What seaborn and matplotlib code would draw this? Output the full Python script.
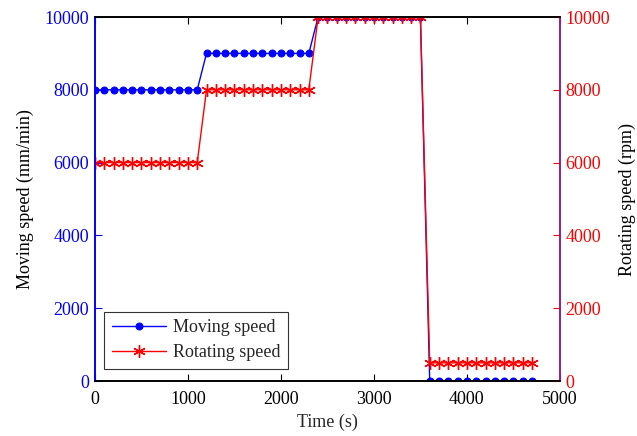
import numpy as np
import pandas as pd
import matplotlib
matplotlib.use("Agg")
import matplotlib.pyplot as plt
import seaborn as sns

# data (time in s)
time_s = [0, 100, 200, 300, 400, 500, 600, 700, 800, 900, 1000, 1100,
          1200, 1300, 1400, 1500, 1600, 1700, 1800, 1900, 2000, 2100, 2200, 2300,
          2400, 2500, 2600, 2700, 2800, 2900, 3000, 3100, 3200, 3300, 3400, 3500,
          3600, 3700, 3800, 3900, 4000, 4100, 4200, 4300, 4400, 4500, 4600, 4700]
moving_speed = [8000, 8000, 8000, 8000, 8000, 8000, 8000, 8000, 8000, 8000, 8000, 8000,
                9000, 9000, 9000, 9000, 9000, 9000, 9000, 9000, 9000, 9000, 9000, 9000,
                10000, 10000, 10000, 10000, 10000, 10000, 10000, 10000, 10000, 10000, 10000, 10000,
                0, 0, 0, 0, 0, 0, 0, 0, 0, 0, 0, 0]
rotating_speed = [6000, 6000, 6000, 6000, 6000, 6000, 6000, 6000, 6000, 6000, 6000, 6000,
                  8000, 8000, 8000, 8000, 8000, 8000, 8000, 8000, 8000, 8000, 8000, 8000,
                  10000, 10000, 10000, 10000, 10000, 10000, 10000, 10000, 10000, 10000, 10000, 10000,
                  500, 500, 500, 500, 500, 500, 500, 500, 500, 500, 500, 500]
x_ticks = [0, 1000, 2000, 3000, 4000, 5000]
y_ticks = [0, 2000, 4000, 6000, 8000, 10000]

df = pd.DataFrame({"time": time_s, "moving": moving_speed, "rotating": rotating_speed})

FS = 13

sns.set_style("white")
plt.rcParams['font.family'] = ['Liberation Serif', 'DejaVu Serif']
plt.rcParams['font.size'] = FS

fig = plt.figure(figsize=(6.37, 4.36), dpi=100)
ax1 = fig.add_axes([0.149, 0.126, 0.730, 0.835])
ax2 = ax1.twinx()

sns.lineplot(data=df, x="time", y="moving", ax=ax1, color="blue", marker="o",
             markersize=5, markeredgecolor="blue", linewidth=1, label="Moving speed",
             legend=False)
sns.lineplot(data=df, x="time", y="rotating", ax=ax2, color="red", marker=(6, 2, 0),
             markersize=9, markeredgecolor="red", markeredgewidth=1, linewidth=1,
             label="Rotating speed", legend=False)

for ax in (ax1, ax2):
    ax.set_xlim(0, 5000)
    ax.set_ylim(0, 10000)
    ax.set_yticks(y_ticks)
    ax.grid(False)

ax1.set_xticks(x_ticks)
ax1.tick_params(axis="x", direction="in", length=5, top=True, bottom=True,
                colors="black", labelsize=FS, width=0.8, pad=7)
ax1.tick_params(axis="y", direction="in", length=5, left=True, right=False,
                colors="blue", labelsize=FS, width=0.8, pad=4)
ax2.tick_params(axis="y", direction="in", length=5, right=True, left=False,
                colors="red", labelsize=FS, width=0.8, pad=4)

ax1.set_xlabel("Time (s)", fontsize=FS, labelpad=4)
ax1.set_ylabel("Moving speed (mm/min)", fontsize=FS, color="black", labelpad=8)
ax2.set_ylabel("Rotating speed (rpm)", fontsize=FS, color="black", labelpad=6)

for ax in (ax1, ax2):
    for s in ax.spines.values():
        s.set_visible(True)
        s.set_linewidth(1.2)
        s.set_color("black")
ax1.spines["left"].set_color("blue")
ax2.spines["left"].set_color("blue")
ax1.spines["right"].set_color("#961e8c")
ax2.spines["right"].set_color("#961e8c")

h1, l1 = ax1.get_legend_handles_labels()
h2, l2 = ax2.get_legend_handles_labels()
leg = ax2.legend(h1 + h2, l1 + l2, loc="lower left", bbox_to_anchor=(0.02, 0.033),
                 borderaxespad=0, frameon=True, fancybox=False, fontsize=FS,
                 handlelength=3, handletextpad=0.4, borderpad=0.42, labelspacing=0.45)
leg.get_frame().set_edgecolor("black")
leg.get_frame().set_linewidth(0.8)

fig.savefig("out.png", dpi=100)
